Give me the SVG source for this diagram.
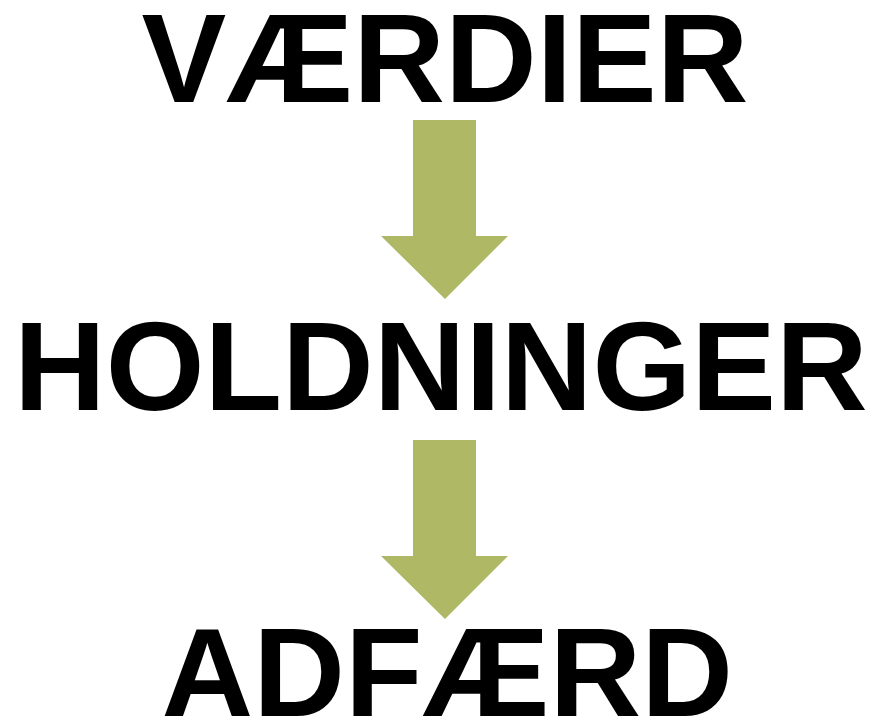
<svg xmlns="http://www.w3.org/2000/svg" width="882" height="721" viewBox="0 0 882 721">
<style>
.t{font-family:"Liberation Sans",Arial,sans-serif;font-weight:bold;font-size:127px;fill:#000}
.a{fill:#AFB865}
</style>
<rect width="882" height="721" fill="#fff"/>
<g id="vaerdier"><text class="t" x="141.5" y="102">VÆRDIER</text></g>
<g id="holdninger"><text class="t" x="14" y="409.5">HOLDNINGER</text></g>
<g id="adfaerd"><text class="t" x="161.5" y="716">ADFÆRD</text></g>
<g id="connectors">
<polygon class="a" points="413,120 476,120 476,236 508,236 445,299 381,236 413,236"/>
<polygon class="a" points="413,440 476,440 476,556 508,556 445,619 381,556 413,556"/>
</g>
</svg>
